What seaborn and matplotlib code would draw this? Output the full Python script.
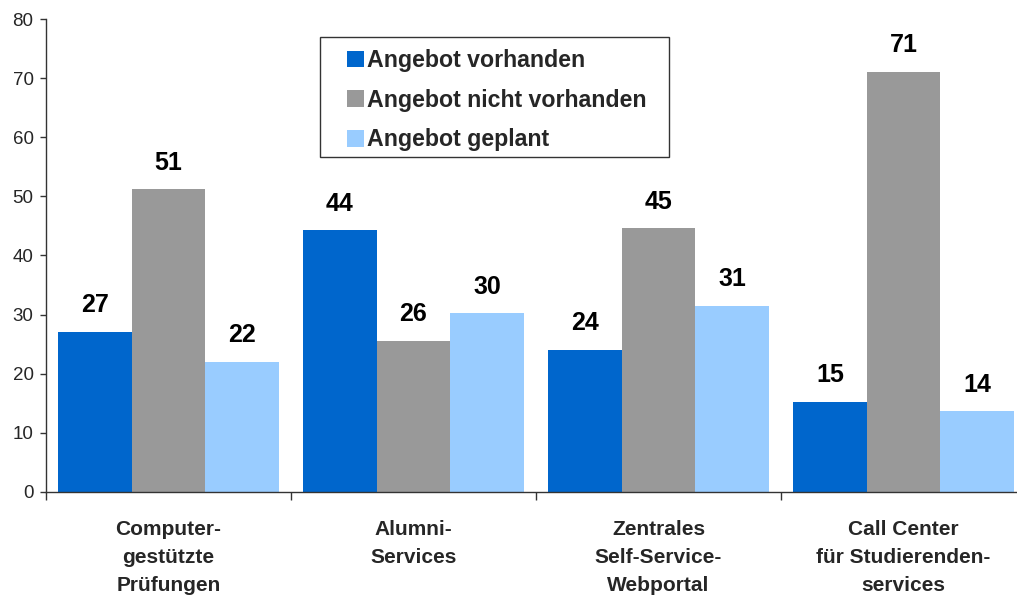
import pandas as pd
import numpy as np
import matplotlib
matplotlib.use('Agg')
import matplotlib.pyplot as plt
import matplotlib.patches as mpatches
import seaborn as sns

# Data
categories = ['Computer-\ngestützte\nPrüfungen', 'Alumni-\nServices',
              'Zentrales\nSelf-Service-\nWebportal', 'Call Center\nfür Studierenden-\nservices']
series = ['Angebot vorhanden', 'Angebot nicht vorhanden', 'Angebot geplant']
vorhanden = [27.1, 44.3, 24.1, 15.3]
nicht_vorhanden = [51.2, 25.6, 44.6, 71.1]
geplant = [22.0, 30.2, 31.5, 13.7]
labels_vorhanden = [27, 44, 24, 15]
labels_nicht = [51, 26, 45, 71]
labels_geplant = [22, 30, 31, 14]
colors = ['#0066CC', '#999999', '#99CCFF']

df = pd.DataFrame({
    'Kategorie': categories * 3,
    'Serie': [s for s in series for _ in categories],
    'Wert': vorhanden + nicht_vorhanden + geplant,
    'Label': labels_vorhanden + labels_nicht + labels_geplant,
})

sns.set_theme(style='white')
plt.rcParams['font.family'] = ['Liberation Sans', 'DejaVu Sans']

W, H = 1017, 597
fig = plt.figure(figsize=(W / 100, H / 100), dpi=100)
ax = fig.add_axes([46 / W, 1 - 492 / H, 980 / W, 473 / H])

sns.barplot(data=df, x='Kategorie', y='Wert', hue='Serie', order=categories,
            hue_order=series, palette=colors, width=0.9, saturation=1,
            linewidth=0, ax=ax)

# value labels above bars
for container, serie in zip(ax.containers, series):
    labs = df.loc[df['Serie'] == serie, 'Label'].tolist()
    for bar, lab in zip(container, labs):
        ax.annotate(str(lab), (bar.get_x() + bar.get_width() / 2, bar.get_height()),
                    xytext=(0, 14), textcoords='offset points', ha='center',
                    va='baseline', fontsize=18, fontweight='bold', color='black')

ax.set_xlim(-0.5, 3.5)
ax.set_ylim(0, 80)
ax.set_yticks(np.arange(0, 81, 10))
ax.set_xlabel('')
ax.set_ylabel('')

for side in ['top', 'right']:
    ax.spines[side].set_visible(False)
for side in ['left', 'bottom']:
    ax.spines[side].set_color('#333333')
    ax.spines[side].set_linewidth(1.0)

ax.tick_params(axis='y', which='major', left=True, direction='out', length=4,
               width=1, color='#333333', pad=5, labelsize=13.5)
ax.tick_params(axis='x', which='major', length=0, pad=20)
ax.set_xticks(np.arange(-0.5, 4, 1), minor=True)
ax.tick_params(axis='x', which='minor', bottom=True, direction='out', length=6,
               width=1, color='#333333')
for t in ax.get_xticklabels():
    t.set_fontsize(15)
    t.set_fontweight('bold')
    t.set_linespacing(1.6)

# legend without its own frame, box drawn separately
handles, _ = ax.get_legend_handles_labels()
if ax.get_legend() is not None:
    ax.get_legend().remove()
leg = fig.legend(handles, series, loc='upper left',
                 bbox_to_anchor=(347 / W, 1 - 49 / H),
                 borderaxespad=0, frameon=False,
                 prop={'size': 16.7, 'weight': 'bold'}, handlelength=0.73,
                 handleheight=0.73, handletextpad=0.12, labelspacing=0.72,
                 borderpad=0)
box = mpatches.Rectangle((320 / W, 1 - 157 / H), 349 / W, 120 / H,
                         transform=fig.transFigure, fill=False,
                         edgecolor='#333333', linewidth=1.0)
fig.patches.append(box)

fig.savefig('out.png', dpi=100)
